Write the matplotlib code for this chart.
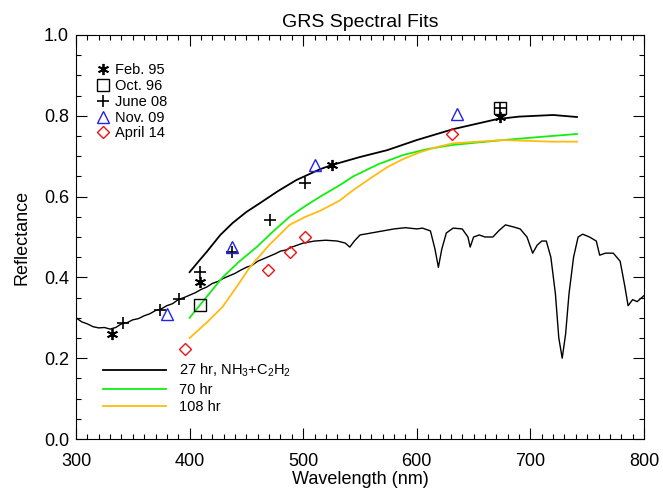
import numpy as np
import matplotlib
matplotlib.use('Agg')
import matplotlib.pyplot as plt
from matplotlib.ticker import MultipleLocator

plt.rcParams['font.family'] = ['Liberation Sans', 'DejaVu Sans']
plt.rcParams['mathtext.default'] = 'regular'

# GRS spectrum (thin black)
spec_wl = [300, 305, 310, 315, 320, 325, 330, 335, 340, 345, 350, 355, 360, 365, 370, 375, 380,
           385, 390, 395, 400, 405, 410, 415, 420, 425, 430, 435, 440, 445,
           450, 455, 460, 465, 470, 475, 480, 485, 490, 495, 500, 510, 520, 530, 537, 541, 545, 550, 560, 570,
           580, 590, 600, 605, 612, 616, 619, 622, 626, 632, 640, 645, 647, 650, 655,
           660, 667, 672, 678, 685, 691, 697, 702, 706, 710, 714, 718, 722, 725, 728,
           731, 734, 738, 742, 746, 752, 758, 761, 766, 773, 779, 783, 786, 790, 794, 800]
spec_r = [0.300, 0.290, 0.285, 0.278, 0.275, 0.276, 0.272, 0.276, 0.285, 0.288, 0.295, 0.298,
          0.305, 0.310, 0.318, 0.322, 0.330, 0.335, 0.345, 0.350, 0.356, 0.362, 0.370, 0.376,
          0.385, 0.390, 0.398, 0.404, 0.410, 0.418, 0.425, 0.430, 0.440, 0.446, 0.452, 0.458,
          0.465, 0.468, 0.475, 0.480, 0.485, 0.490, 0.492, 0.490,
          0.485, 0.475, 0.490, 0.505, 0.510, 0.515, 0.520, 0.523, 0.520, 0.522, 0.515, 0.470,
          0.425, 0.470, 0.510, 0.522, 0.520, 0.500, 0.475, 0.500, 0.505, 0.500, 0.500, 0.515,
          0.530, 0.525, 0.520, 0.500, 0.460, 0.480, 0.490, 0.490, 0.450, 0.360, 0.250, 0.200,
          0.260, 0.360, 0.450, 0.500, 0.507, 0.500, 0.490, 0.455, 0.460, 0.460, 0.440, 0.380,
          0.330, 0.345, 0.340, 0.355]

# model fits
fit27_wl = [400, 408, 415, 427, 438, 450, 462, 478, 494, 515, 525, 550, 574, 600, 632, 671, 690, 720, 741]
fit27_r = [0.413, 0.440, 0.463, 0.505, 0.535, 0.562, 0.584, 0.614, 0.641, 0.668, 0.678, 0.698,
           0.715, 0.740, 0.767, 0.792, 0.798, 0.802, 0.797]
fit70_wl = [400, 415, 429, 444, 459, 474, 488, 502, 515, 532, 544, 566, 588, 610, 632, 676, 710, 741]
fit70_r = [0.300, 0.352, 0.400, 0.440, 0.475, 0.515, 0.550, 0.577, 0.600, 0.628, 0.650, 0.680,
           0.703, 0.718, 0.728, 0.740, 0.748, 0.755]
fit108_wl = [400, 415, 429, 441, 453, 470, 488, 502, 515, 532, 544, 559, 574, 588, 603, 617, 632, 676, 720, 741]
fit108_r = [0.250, 0.288, 0.327, 0.375, 0.425, 0.480, 0.530, 0.550, 0.565, 0.590, 0.616, 0.645,
            0.673, 0.693, 0.710, 0.722, 0.732, 0.740, 0.736, 0.736]

# observations
feb95_wl = [332, 409, 525, 673]
feb95_r = [0.260, 0.389, 0.678, 0.797]
oct96_wl = [409, 673]
oct96_r = [0.332, 0.820]
jun08_wl = [341, 374, 391, 409, 437, 471, 502, 673]
jun08_r = [0.287, 0.320, 0.347, 0.413, 0.463, 0.542, 0.633, 0.820]
nov09_wl = [380, 437, 510, 635]
nov09_r = [0.310, 0.475, 0.678, 0.805]
apr14_wl = [396, 469, 488, 502, 631]
apr14_r = [0.222, 0.418, 0.462, 0.500, 0.755]

fig = plt.figure(figsize=(6.63, 4.97), dpi=100)
ax = fig.add_axes([76/663, 58/497, 568/663, 404/497])

ax.plot(spec_wl, spec_r, color='black', lw=1.0)
l27, = ax.plot(fit27_wl, fit27_r, color='black', lw=1.3, label='27 hr, NH$_3$+C$_2$H$_2$')
l70, = ax.plot(fit70_wl, fit70_r, color='#11ee11', lw=1.3, label='70 hr')
l108, = ax.plot(fit108_wl, fit108_r, color='#ffbb11', lw=1.3, label='108 hr')

m1, = ax.plot(feb95_wl, feb95_r, ls='none', marker=(6, 2, 0), ms=8, mew=1.3, color='black', label='Feb. 95')
m2, = ax.plot(oct96_wl, oct96_r, ls='none', marker='s', ms=9, mew=1.0, mfc='none', mec='black', label='Oct. 96')
m3, = ax.plot(jun08_wl, jun08_r, ls='none', marker='+', ms=9, mew=1.2, color='black', label='June 08')
m4, = ax.plot(nov09_wl, nov09_r, ls='none', marker='^', ms=8, mew=1.0, mfc='none', mec='#2222ee', label='Nov. 09')
m5, = ax.plot(apr14_wl, apr14_r, ls='none', marker='D', ms=6, mew=1.0, mfc='none', mec='#ee1111', label='April 14')

leg1 = ax.legend(handles=[m1, m2, m3, m4, m5], loc='upper left', bbox_to_anchor=(0.02, 0.955),
                 frameon=False, fontsize=10.5, handlelength=0.8, handletextpad=0.4,
                 labelspacing=0.12, borderpad=0.2)
ax.add_artist(leg1)
ax.legend(handles=[l27, l70, l108], loc='lower left', bbox_to_anchor=(0.03, 0.037),
          frameon=False, fontsize=10.5, handlelength=4.3, handletextpad=0.9,
          labelspacing=0.22, borderpad=0.2)

ax.set_xlim(300, 800)
ax.set_ylim(0.0, 1.0)
ax.xaxis.set_major_locator(MultipleLocator(100))
ax.xaxis.set_minor_locator(MultipleLocator(10))
ax.yaxis.set_major_locator(MultipleLocator(0.2))
ax.yaxis.set_minor_locator(MultipleLocator(0.05))
ax.yaxis.set_major_formatter(matplotlib.ticker.FormatStrFormatter('%.1f'))
ax.tick_params(which='both', direction='in', top=True, right=True, labelsize=13, width=0.8)
ax.tick_params(which='major', length=8, pad=5)
ax.tick_params(which='minor', length=3.5)
ax.tick_params(axis='x', which='major', pad=10)

ax.set_xlabel('Wavelength (nm)', fontsize=13, labelpad=1)
ax.set_ylabel('Reflectance', fontsize=13, labelpad=10)
ax.set_title('GRS Spectral Fits', fontsize=14, pad=6)

fig.savefig('out.png', dpi=100)
